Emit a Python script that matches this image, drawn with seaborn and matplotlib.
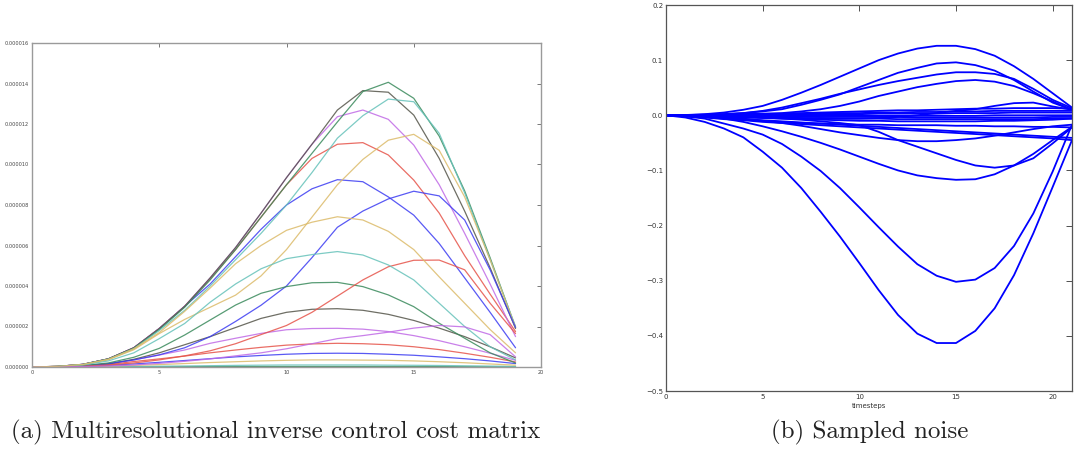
import numpy as np
import pandas as pd
import matplotlib
matplotlib.use("Agg")
import matplotlib.pyplot as plt
import seaborn as sns

# ---------------- data: (a) cost matrix rows, values in 1e-6 ----------------
cost_steps = list(range(20))
row_00 = [0, 0.03, 0.13, 0.4, 0.95, 1.9, 3.0, 4.1, 5.45, 6.8, 8.0, 8.8, 9.25, 9.15, 8.4, 7.5, 6.1, 4.4, 2.7, 0.95]
row_01 = [0, 0, 0, 0.005, 0.01, 0.01, 0.015, 0.02, 0.02, 0.02, 0.025, 0.025, 0.025, 0.025, 0.02, 0.02, 0.02, 0.015, 0.01, 0.01]
row_02 = [0, 0.03, 0.13, 0.4, 0.95, 1.9, 3.0, 4.35, 5.8, 7.4, 9.0, 10.3, 11.0, 11.08, 10.47, 9.23, 7.6, 5.5, 3.6, 1.75]
row_03 = [0, 0, 0.005, 0.015, 0.025, 0.04, 0.05, 0.065, 0.08, 0.09, 0.1, 0.1, 0.1, 0.1, 0.09, 0.085, 0.075, 0.06, 0.045, 0.03]
row_04 = [0, 0.03, 0.13, 0.4, 0.95, 1.9, 3.0, 4.4, 5.9, 7.6, 9.35, 11.0, 12.36, 12.69, 12.23, 10.96, 9.0, 6.6, 4.1, 1.5]
row_05 = [0, 0.005, 0.015, 0.04, 0.08, 0.12, 0.17, 0.22, 0.26, 0.3, 0.33, 0.35, 0.35, 0.34, 0.33, 0.3, 0.26, 0.21, 0.15, 0.09]
row_06 = [0, 0.03, 0.13, 0.4, 0.95, 1.9, 3.0, 4.4, 5.9, 7.6, 9.35, 11.0, 12.69, 13.65, 13.57, 12.44, 10.3, 7.7, 4.9, 1.9]
row_07 = [0, 0.01, 0.03, 0.08, 0.15, 0.23, 0.32, 0.41, 0.5, 0.57, 0.63, 0.67, 0.68, 0.67, 0.63, 0.58, 0.5, 0.41, 0.3, 0.17]
row_08 = [0, 0.03, 0.13, 0.4, 0.93, 1.85, 2.95, 4.3, 5.8, 7.4, 9.0, 10.55, 12.1, 13.6, 14.06, 13.27, 11.4, 8.7, 5.4, 1.95]
row_09 = [0, 0.01, 0.04, 0.12, 0.27, 0.4, 0.54, 0.7, 0.84, 0.97, 1.08, 1.14, 1.17, 1.15, 1.1, 1.0, 0.86, 0.68, 0.48, 0.25]
row_10 = [0, 0.03, 0.12, 0.38, 0.9, 1.8, 2.8, 4.0, 5.3, 6.6, 8.0, 9.6, 11.3, 12.41, 13.23, 13.1, 11.54, 8.6, 5.3, 2.0]
row_11 = [0, 0.01, 0.04, 0.15, 0.35, 0.59, 0.84, 1.17, 1.42, 1.66, 1.84, 1.9, 1.91, 1.87, 1.75, 1.55, 1.3, 1.0, 0.68, 0.33]
row_12 = [0, 0.03, 0.12, 0.36, 0.85, 1.65, 2.35, 2.95, 3.55, 4.5, 5.8, 7.4, 9.0, 10.25, 11.2, 11.49, 10.7, 8.4, 5.3, 1.95]
row_13 = [0, 0.01, 0.05, 0.15, 0.38, 0.7, 1.1, 1.5, 1.95, 2.4, 2.7, 2.85, 2.88, 2.8, 2.6, 2.3, 1.92, 1.5, 1.0, 0.45]
row_14 = [0, 0.02, 0.06, 0.17, 0.35, 0.6, 0.95, 1.5, 2.25, 3.05, 4.0, 5.4, 6.9, 7.7, 8.3, 8.68, 8.45, 7.26, 4.8, 1.95]
row_15 = [0, 0.02, 0.07, 0.2, 0.48, 0.92, 1.58, 2.32, 3.06, 3.64, 3.97, 4.16, 4.18, 3.97, 3.56, 2.98, 2.16, 1.42, 0.7, 0.2]
row_16 = [0, 0.01, 0.04, 0.1, 0.2, 0.35, 0.55, 0.8, 1.15, 1.6, 2.05, 2.7, 3.5, 4.3, 4.95, 5.27, 5.28, 4.8, 3.15, 1.65]
row_17 = [0, 0.02, 0.1, 0.3, 0.7, 1.4, 2.15, 3.2, 4.1, 4.85, 5.35, 5.55, 5.7, 5.53, 5.04, 4.3, 3.15, 2.0, 1.0, 0.35]
row_18 = [0, 0.01, 0.02, 0.05, 0.1, 0.18, 0.28, 0.4, 0.55, 0.7, 0.9, 1.15, 1.4, 1.55, 1.72, 1.92, 2.05, 1.98, 1.6, 0.5]
row_19 = [0, 0.03, 0.12, 0.38, 0.9, 1.7, 2.75, 3.9, 5.1, 6.0, 6.75, 7.15, 7.42, 7.26, 6.7, 5.8, 4.45, 3.15, 1.85, 0.7]
cost_rows = [row_00, row_01, row_02, row_03, row_04, row_05, row_06, row_07, row_08, row_09,
             row_10, row_11, row_12, row_13, row_14, row_15, row_16, row_17, row_18, row_19]
cost_yticks = [0, 2e-6, 4e-6, 6e-6, 8e-6, 10e-6, 12e-6, 14e-6, 16e-6]
cost_xticks = [0, 5, 10, 15, 20]

# ---------------- data: (b) sampled noise ----------------
timesteps = list(range(22))
noise_01 = [0, 0.0005, 0.002, 0.005, 0.01, 0.017, 0.028, 0.041, 0.055, 0.07, 0.085, 0.1, 0.112, 0.121, 0.126, 0.126, 0.12, 0.108, 0.089, 0.066, 0.04, 0.014]
noise_02 = [0, 0.0005, 0.001, 0.002, 0.004, 0.007, 0.011, 0.019, 0.028, 0.038, 0.051, 0.064, 0.077, 0.086, 0.094, 0.096, 0.091, 0.081, 0.064, 0.043, 0.023, 0.01]
noise_03 = [0, 0.0005, 0.001, 0.002, 0.004, 0.008, 0.014, 0.022, 0.03, 0.039, 0.047, 0.055, 0.062, 0.068, 0.074, 0.078, 0.078, 0.075, 0.066, 0.048, 0.028, 0.013]
noise_04 = [0, 0.0, 0.0005, 0.001, 0.002, 0.003, 0.004, 0.007, 0.011, 0.017, 0.025, 0.035, 0.043, 0.051, 0.057, 0.062, 0.064, 0.061, 0.053, 0.04, 0.025, 0.01]
noise_05 = [0, 0.0, -0.0005, -0.001, -0.002, -0.003, -0.004, -0.005, -0.006, -0.006, -0.006, -0.005, -0.003, 0.0, 0.004, 0.008, 0.011, 0.017, 0.022, 0.023, 0.016, 0.01]
noise_06 = [0, -0.004, -0.012, -0.024, -0.04, -0.066, -0.095, -0.132, -0.175, -0.22, -0.268, -0.317, -0.362, -0.396, -0.413, -0.413, -0.391, -0.35, -0.29, -0.214, -0.13, -0.045]
noise_07 = [0, -0.002, -0.006, -0.015, -0.024, -0.035, -0.052, -0.075, -0.101, -0.132, -0.167, -0.203, -0.238, -0.27, -0.291, -0.302, -0.298, -0.277, -0.237, -0.178, -0.102, -0.017]
noise_08 = [0, -0.001, -0.003, -0.006, -0.012, -0.02, -0.029, -0.039, -0.05, -0.062, -0.075, -0.088, -0.1, -0.109, -0.114, -0.117, -0.116, -0.107, -0.091, -0.07, -0.045, -0.021]
noise_09 = [0, -0.001, -0.001, -0.002, -0.003, -0.004, -0.006, -0.008, -0.011, -0.014, -0.018, -0.03, -0.045, -0.057, -0.069, -0.081, -0.091, -0.095, -0.091, -0.078, -0.051, -0.022]
noise_10 = [0, -0.001, -0.002, -0.004, -0.006, -0.01, -0.014, -0.019, -0.025, -0.031, -0.036, -0.041, -0.045, -0.047, -0.047, -0.045, -0.042, -0.037, -0.031, -0.025, -0.02, -0.017]
noise_11 = [0, -0.002, -0.004, -0.007, -0.009, -0.012, -0.014, -0.016, -0.018, -0.02, -0.022, -0.024, -0.026, -0.028, -0.03, -0.032, -0.034, -0.036, -0.038, -0.04, -0.042, -0.045]
noise_12 = [0, -0.001, -0.003, -0.005, -0.007, -0.009, -0.011, -0.013, -0.015, -0.017, -0.019, -0.021, -0.023, -0.025, -0.027, -0.029, -0.031, -0.033, -0.035, -0.037, -0.039, -0.041]
noise_13 = [0, -0.001, -0.003, -0.005, -0.008, -0.01, -0.012, -0.014, -0.015, -0.016, -0.017, -0.017, -0.018, -0.018, -0.018, -0.019, -0.019, -0.02, -0.02, -0.021, -0.021, -0.022]
noise_14 = [0, -0.001, -0.002, -0.003, -0.004, -0.005, -0.006, -0.007, -0.008, -0.009, -0.01, -0.01, -0.011, -0.011, -0.011, -0.011, -0.011, -0.01, -0.01, -0.009, -0.008, -0.006]
noise_15 = [0, 0.0, 0.001, 0.001, 0.002, 0.002, 0.003, 0.004, 0.005, 0.006, 0.007, 0.008, 0.009, 0.009, 0.01, 0.011, 0.012, 0.012, 0.013, 0.013, 0.013, 0.012]
noise_16 = [0, 0.0, 0.0005, 0.001, 0.001, 0.002, 0.002, 0.003, 0.003, 0.004, 0.004, 0.005, 0.005, 0.006, 0.006, 0.007, 0.007, 0.008, 0.008, 0.008, 0.008, 0.008]
noise_17 = [0, 0.0, 0.0, 0.0005, 0.001, 0.001, 0.001, 0.002, 0.002, 0.002, 0.002, 0.003, 0.003, 0.003, 0.003, 0.004, 0.004, 0.004, 0.005, 0.005, 0.005, 0.005]
noise_18 = [0, 0.0, 0.0, 0.0, 0.0, -0.001, -0.001, -0.001, -0.001, -0.001, -0.001, -0.001, -0.001, -0.001, -0.001, -0.001, -0.001, 0.0, 0.0, 0.0, 0.0, 0.0]
noise_19 = [0, 0.0, -0.0005, -0.001, -0.001, -0.002, -0.002, -0.002, -0.003, -0.003, -0.003, -0.003, -0.003, -0.004, -0.004, -0.004, -0.004, -0.004, -0.004, -0.004, -0.003, -0.003]
noise_20 = [0, -0.0005, -0.001, -0.002, -0.003, -0.004, -0.004, -0.005, -0.005, -0.006, -0.006, -0.006, -0.007, -0.007, -0.007, -0.007, -0.007, -0.007, -0.007, -0.007, -0.006, -0.006]
noise_rows = [noise_01, noise_02, noise_03, noise_04, noise_05, noise_06, noise_07, noise_08, noise_09, noise_10,
              noise_11, noise_12, noise_13, noise_14, noise_15, noise_16, noise_17, noise_18, noise_19, noise_20]
noise_yticks = [-0.5, -0.4, -0.3, -0.2, -0.1, 0.0, 0.1, 0.2]
noise_xticks = [0, 5, 10, 15, 20]

caption_a = "(a) Multiresolutional inverse control cost matrix"
caption_b = "(b) Sampled noise"
xlabel_b = "timesteps"

# ---------------- styling ----------------
sns.set_style("white")
plt.rcParams["font.family"] = ["DejaVu Sans"]
classic_cycle = ["#3c3cf2", "#3a8a5c", "#e6544a", "#66c2ba", "#c06ae6", "#dcbb6a", "#55554a"]

fig = plt.figure(figsize=(10.77, 4.5), dpi=100)
ax1 = fig.add_axes([32 / 1077, 1 - 367 / 450, (541 - 32) / 1077, (367 - 43) / 450])
ax2 = fig.add_axes([666 / 1077, 1 - 391 / 450, (1072 - 666) / 1077, (391 - 5) / 450])

# (a)
df_a = pd.DataFrame({
    "step": np.tile(cost_steps, len(cost_rows)),
    "value": np.concatenate([np.asarray(r) * 1e-6 for r in cost_rows]),
    "row": np.repeat(np.arange(len(cost_rows)), len(cost_steps)),
})
pal_a = [classic_cycle[i % 7] for i in range(len(cost_rows))]
sns.lineplot(data=df_a, x="step", y="value", hue="row", palette=pal_a, legend=False,
             linewidth=0.9, alpha=0.85, ax=ax1, estimator=None, sort=False)
ax1.set_xlim(0, 20)
ax1.set_ylim(0, 16e-6)
ax1.set_xticks(cost_xticks)
ax1.set_yticks(cost_yticks)
ax1.set_yticklabels([f"{v:.6f}" for v in cost_yticks])
ax1.set_xticklabels([str(v) for v in cost_xticks])
ax1.tick_params(direction="in", length=3, width=0.5, labelsize=3.6, colors="#444444",
                top=True, right=True, pad=2)
for s in ax1.spines.values():
    s.set_color("#9a9a9a")
    s.set_linewidth(1.0)
ax1.set_xlabel("")
ax1.set_ylabel("")

# (b)
df_b = pd.DataFrame({
    "t": np.tile(timesteps, len(noise_rows)),
    "value": np.concatenate([np.asarray(r) for r in noise_rows]),
    "row": np.repeat(np.arange(len(noise_rows)), len(timesteps)),
})
sns.lineplot(data=df_b, x="t", y="value", units="row", estimator=None, color="#0000ff",
             linewidth=1.3, ax=ax2, sort=False)
ax2.set_xlim(0, 21)
ax2.set_ylim(-0.5, 0.2)
ax2.set_xticks(noise_xticks)
ax2.set_yticks(noise_yticks)
ax2.set_yticklabels([f"{v:.1f}".replace("-", "\u2212") for v in noise_yticks])
ax2.tick_params(direction="in", length=4, width=0.6, labelsize=5, colors="#333333",
                top=True, right=True, pad=2)
for s in ax2.spines.values():
    s.set_color("#555555")
    s.set_linewidth(0.9)
ax2.set_xlabel(xlabel_b, fontsize=5, color="#333333", labelpad=2)
ax2.set_ylabel("")

fig.text(276 / 1077, 1 - 432 / 450, caption_a, ha="center", va="center",
         fontsize=18, family=["cmr10", "DejaVu Serif"], color="#222222")
fig.text(870 / 1077, 1 - 432 / 450, caption_b, ha="center", va="center",
         fontsize=18, family=["cmr10", "DejaVu Serif"], color="#222222")

fig.savefig("out.png", dpi=100)
